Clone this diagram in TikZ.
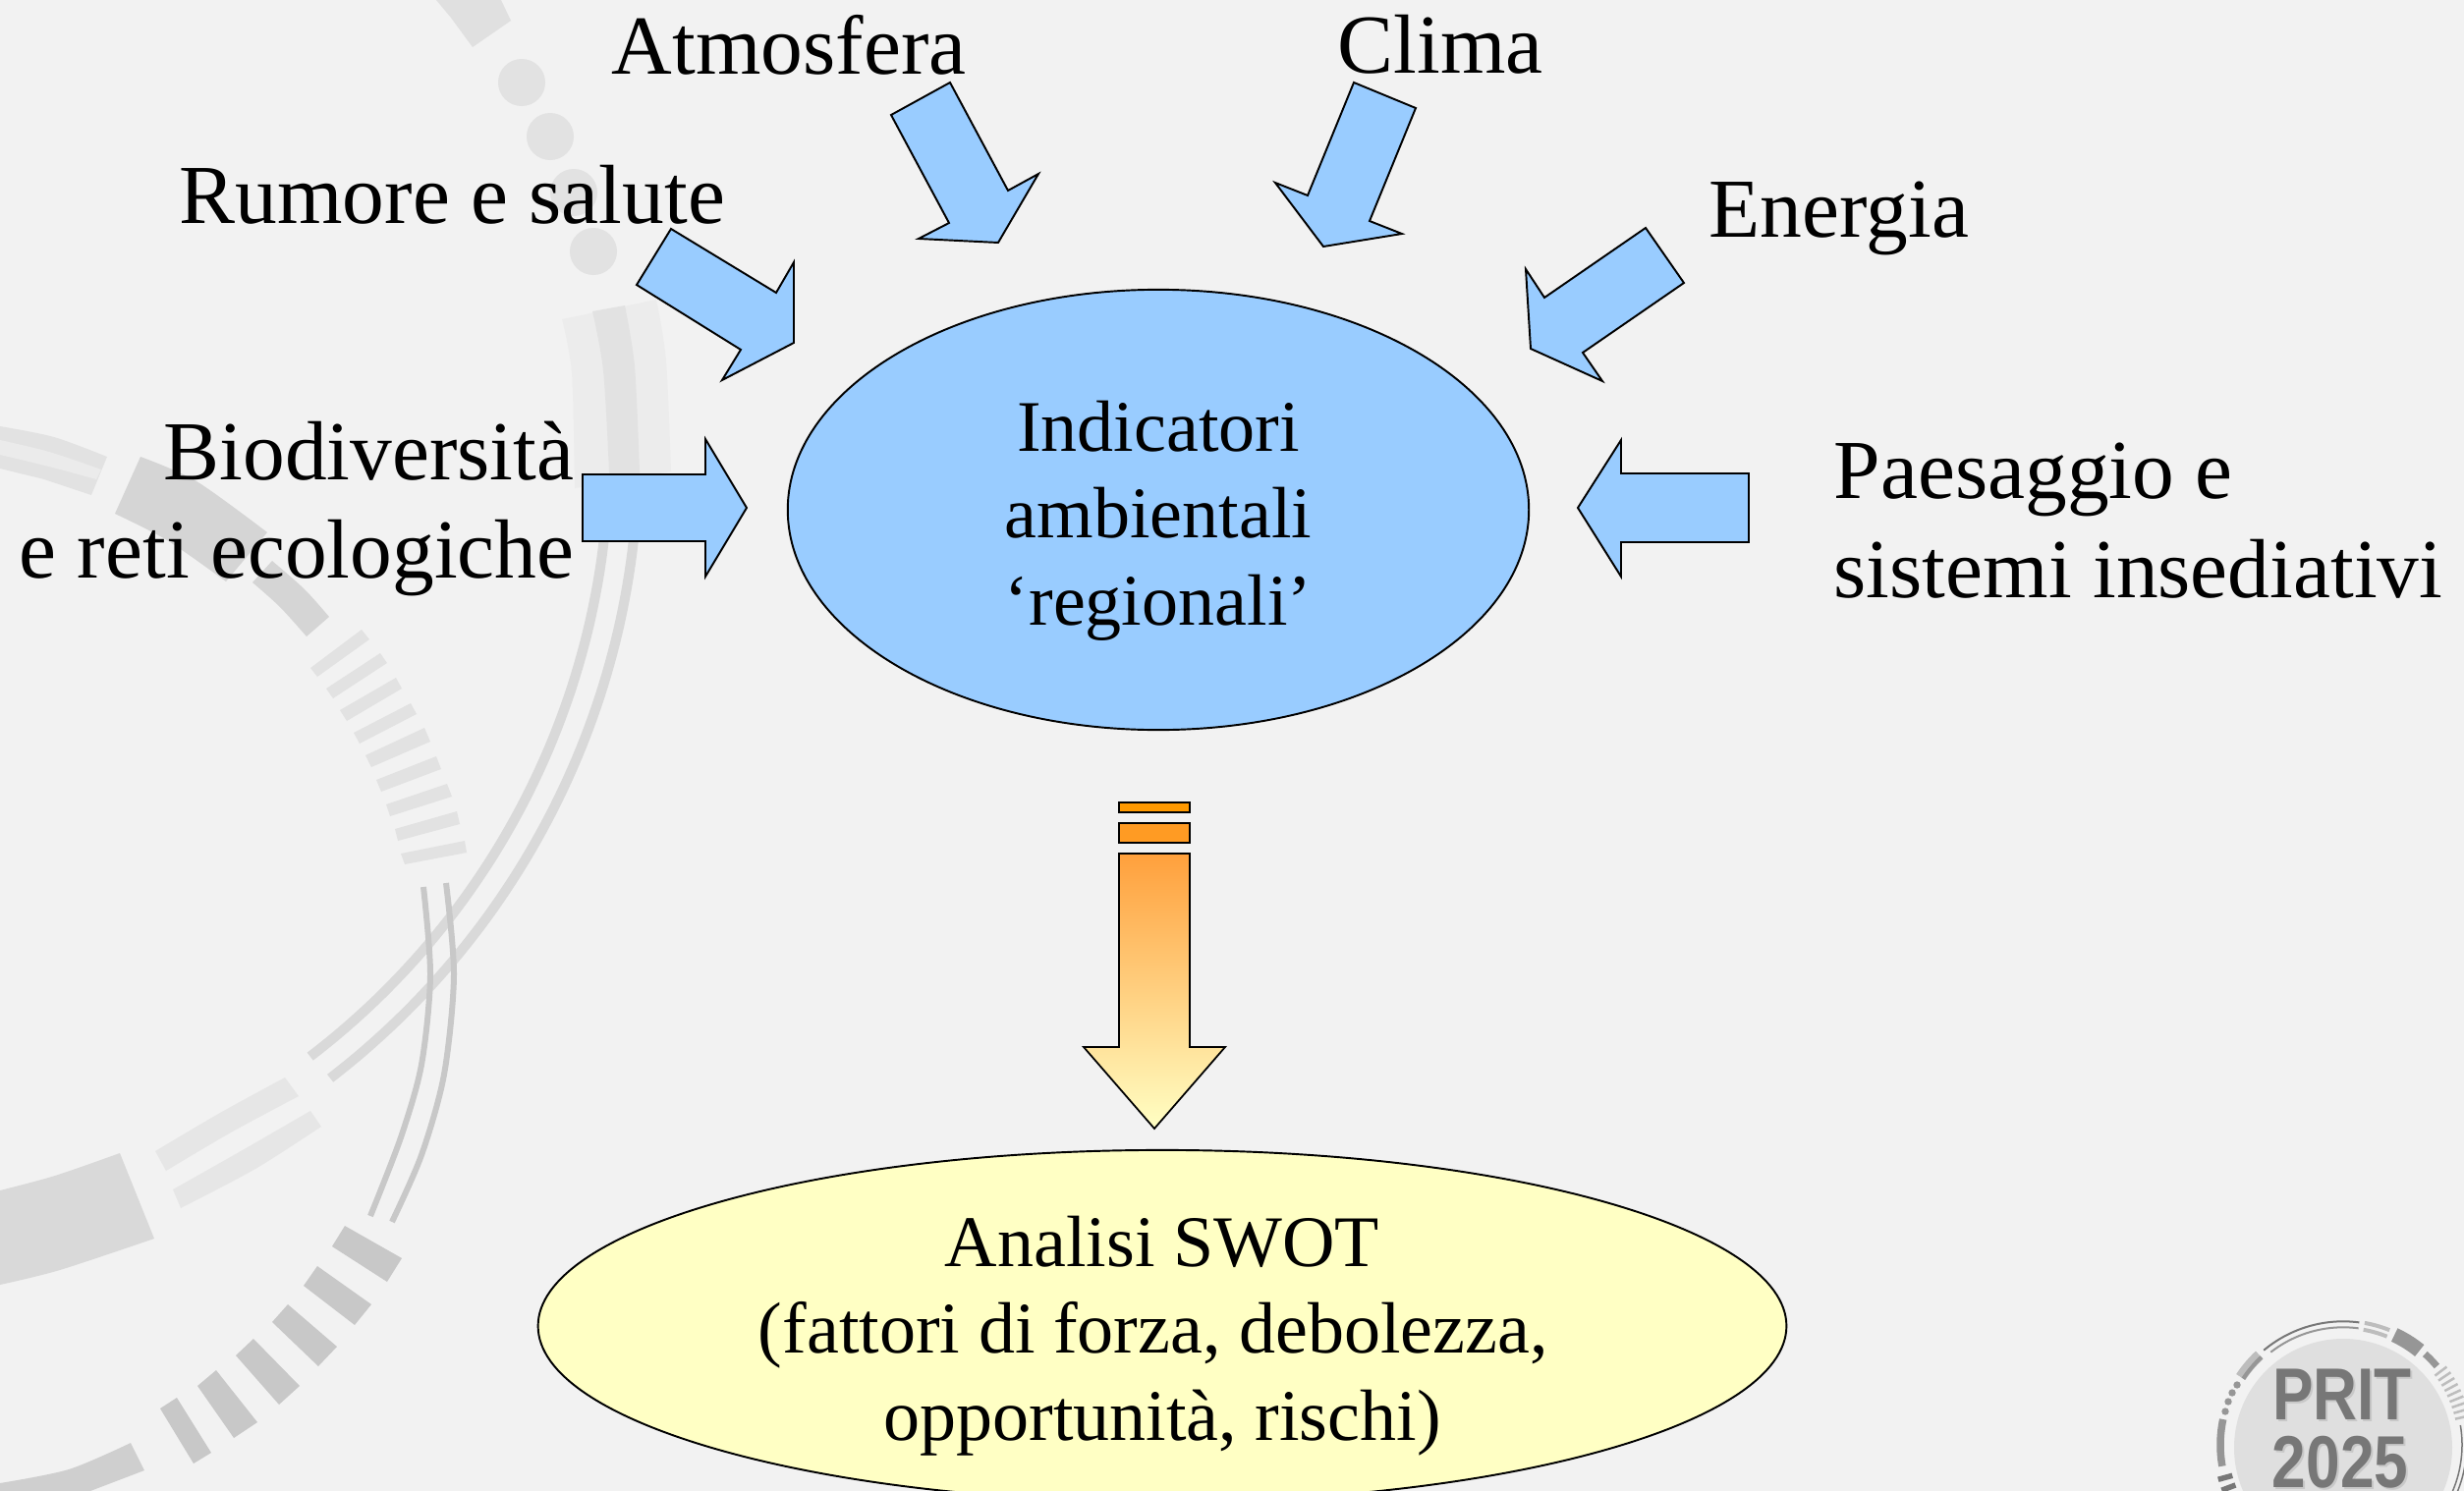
\documentclass[tikz,border=0pt]{standalone}
\usepackage{fontspec}
\usepackage{graphicx}
\setmainfont{Liberation Serif}
\newfontfamily\logofont{Liberation Sans}
\usetikzlibrary{shapes.geometric}
\definecolor{pagebg}{HTML}{F2F2F2}
\definecolor{skyfill}{HTML}{99CCFF}
\definecolor{creamfill}{HTML}{FFFFC4}
\definecolor{ringA}{HTML}{C8C8C8}
\definecolor{ringB}{HTML}{D5D5D5}
\definecolor{ringC}{HTML}{D9D9D9}
\definecolor{ringD}{HTML}{E2E2E2}
\definecolor{ringE}{HTML}{E6E6E6}
\definecolor{ringF}{HTML}{ECECEC}
\definecolor{ringG}{HTML}{CFCFCF}
\definecolor{logoDisk}{HTML}{DFDFDF}
\definecolor{logoText}{HTML}{777777}
\definecolor{logoShadow}{HTML}{C8C8C8}
\definecolor{logoMid}{HTML}{969696}
\definecolor{logoLight}{HTML}{BDBDBD}
\tikzset{
  blockarrow/.style={draw=black,fill=skyfill,line width=0.55pt,line join=miter},
  bigtext/.style={inner sep=0pt,font=\fontsize{24.3}{28.7}\selectfont},
  midtext/.style={inner sep=0pt,align=center,font=\fontsize{21.05}{25.2}\selectfont},
  bubble/.style={ellipse,draw=black,line width=0.55pt,inner sep=0pt},
  logotxt/.style={inner sep=0pt,anchor=base,font=\logofont\bfseries\fontsize{21.3}{21.3}\selectfont},
}
% arc of the small logo: angles a1 to a2 (math sense), radius, width, colour
\newcommand{\logoarc}[5]{\draw[line width=#4*0.01cm,color=#5,domain=#1:#2,samples=24,variable=\t,line cap=butt]
  plot ({2385+#3*cos(\t)},{1471-#3*sin(\t)});}
\newcommand{\logotick}[3]{\draw[line width=#3*0.01cm,color=#2] ({2385+117*cos(#1)},{1471-117*sin(#1)}) -- ({2385+132*cos(#1)},{1471-132*sin(#1)});}
\begin{document}
\begin{tikzpicture}[x=0.01cm,y=-0.01cm]
\useasboundingbox (0,0) rectangle (2508,1518);
\clip (0,0) rectangle (2508,1518);
\fill[pagebg] (0,0) rectangle (2508,1518);

% --- large faint ring decoration
\fill[ringD!80!ringC] (444,0) -- (510,0) -- (520,21) -- (481,48) -- (459,18) -- cycle;
\foreach \cx/\cy in {531/84,560/139,584/196,604/256}{\fill[ringD] (\cx,\cy) circle[radius=24];}
\fill[ringF] plot[smooth] coordinates {(572,325) (582,380) (585,497)} -- plot[smooth] coordinates {(683,480) (678,367) (668,305)} -- cycle;
\fill[ringD] plot[smooth] coordinates {(603,317) (614,377) (620,480) (620,500)} -- plot[smooth] coordinates {(651,500) (651,480) (646,373) (636,311)} -- cycle;
\draw[ringC,line width=0.1cm,domain=4:52.6,samples=60,variable=\t] plot ({-155+775*cos(\t)},{460+775*sin(\t)});
\draw[ringC,line width=0.1cm,domain=4:52.4,samples=60,variable=\t] plot ({-155+805*cos(\t)},{460+805*sin(\t)});
\fill[ringE] plot[smooth] coordinates {(290,1097) (224,1133) (158,1172)} -- plot[smooth] coordinates {(169,1192) (235,1153) (304,1116)} -- cycle;
\fill[ringE] plot[smooth] coordinates {(316,1131) (245,1172) (176,1211)} -- plot[smooth] coordinates {(184,1230) (260,1190) (327,1147)} -- cycle;
\fill[ringC] plot[smooth] coordinates {(122,1174) (56,1197) (0,1212)} -- plot[smooth] coordinates {(0,1308) (61,1293) (157,1261)} -- cycle;
\fill[ringA] (351,1248) -- (409,1281) -- (394,1305) -- (338,1269) -- cycle;
\fill[ringA] (323,1289) -- (378,1328) -- (361,1349) -- (309,1309) -- cycle;
\fill[ringA] (293,1328) -- (343,1371) -- (324,1391) -- (277,1346) -- cycle;
\fill[ringA] (258,1363) -- (305,1411) -- (284,1430) -- (240,1380) -- cycle;
\fill[ringA] (220,1395) -- (262,1448) -- (238,1464) -- (201,1411) -- cycle;
\fill[ringA] (180,1423) -- (215,1479) -- (197,1490) -- (163,1434) -- cycle;
\fill[ringG] plot[smooth] coordinates {(133,1469) (70,1496) (0,1510)} -- (0,1518) -- (92,1518) -- (147,1497) -- cycle;
\draw[ringA,line width=0.06cm] plot[smooth] coordinates {(431,903) (438,993) (429,1084) (408,1158) (377,1238)};
\draw[ringA,line width=0.06cm] plot[smooth] coordinates {(454,899) (462,993) (452,1094) (429,1176) (399,1244)};
% hatch marks
\foreach \a/\b/\c/\d/\e/\f/\g/\h in {
 368/641/376/651/323/689/316/680,
 387/665/394/675/339/711/332/701,
 403/690/409/701/353/734/346/723,
 418/716/424/727/366/757/360/746,
 432/741/438/755/378/781/372/769,
 444/770/449/783/388/806/383/794,
 455/798/460/811/397/831/393/819,
 465/826/468/839/405/856/402/844,
 473/856/475/868/412/880/408/869}{\fill[ringD] (\a,\b) -- (\c,\d) -- (\e,\f) -- (\g,\h) -- cycle;}
% arcs to the left
\fill[ringD] plot[smooth] coordinates {(0,434) (55,445) (109,465)} -- (93,504) -- plot[smooth] coordinates {(45,488) (0,477)} -- cycle;
\fill[ringE!60!pagebg] plot[smooth] coordinates {(0,448) (50,460) (103,478)} -- plot[smooth] coordinates {(98,488) (50,475) (0,463)} -- cycle;
\fill[ringB] plot[smooth] coordinates {(143,465) (200,490) (272,542)} -- plot[smooth] coordinates {(230,592) (170,550) (117,523)} -- cycle;
\fill[ringB] plot[smooth] coordinates {(277,571) (310,600) (335,628)} -- plot[smooth] coordinates {(312,648) (285,618) (257,593)} -- cycle;

% --- small logo, bottom right
\fill[logoDisk] (2385,1474) circle[radius=111];
\logoarc{82.5}{130}{125.7}{2}{logoText}
\logoarc{82.5}{128}{119.7}{2}{logoMid}
\logoarc{68}{80}{119}{4}{logoLight}
\logoarc{68}{80}{126}{4}{logoLight}
\logoarc{51}{65}{123.5}{15}{logoMid}
\logoarc{40}{48}{124.5}{7}{logoMid}
\foreach \ang in {37,34,31,28,25,22,19,16,13}{\logotick{\ang}{logoLight}{2.5}}
\logoarc{-30}{9.5}{121}{1.5}{logoText}
\logoarc{-30}{-8}{125.7}{1.5}{logoText}
\logoarc{133}{146.5}{125}{11}{logoLight}
\logoarc{133}{146.5}{122}{4}{logoMid}
\foreach \cx/\cy in {2277/1410,2272/1418,2268/1427,2265/1437}{\fill[logoMid] (\cx,\cy) circle[radius=3.7];}
\logoarc{168}{190}{125}{7.5}{logoMid}
\logotick{195.5}{logoText}{5.5}
\logotick{200.5}{logoText}{5.5}
\logotick{205.5}{logoText}{5.5}
\node[logotxt,text=logoShadow] (pritshadow) at (2386,1447) {\scalebox{0.83}[1]{PRIT}};
\node[logotxt,text=logoText] (prit) at (2384,1445) {\scalebox{0.83}[1]{PRIT}};
\node[logotxt,text=logoShadow] (yearshadow) at (2384,1516) {\scalebox{0.83}[1]{2025}};
\node[logotxt,text=logoText] (year) at (2382,1514) {\scalebox{0.83}[1]{2025}};

% --- ellipses
\node[bubble,fill=skyfill,minimum width=7.54cm,minimum height=4.48cm] (indicatori) at (1179,519) {};
\node[bubble,fill=creamfill,minimum width=12.70cm,minimum height=3.58cm] (swot) at (1183,1350) {};

% --- block arrows
\draw[blockarrow] (593,483) -- (718,483) -- (718,447) -- (760,517) -- (718,587) -- (718,551) -- (593,551) -- cycle;
\draw[blockarrow] (1606,517) -- (1650,448) -- (1650,482) -- (1780,482) -- (1780,552) -- (1650,552) -- (1650,587) -- cycle;
\draw[blockarrow] (683,233) -- (790,298) -- (808,267) -- (808,349) -- (735,387) -- (754,356) -- (648,290) -- cycle;
\draw[blockarrow] (967,84) -- (1026,194) -- (1057,177) -- (1016,247) -- (935,243) -- (966,227) -- (907,117) -- cycle;
\draw[blockarrow] (1378,84) -- (1441,110) -- (1394,225) -- (1427,238) -- (1347,251) -- (1298,186) -- (1331,199) -- cycle;
\draw[blockarrow] (1675,232) -- (1714,288) -- (1611,359) -- (1631,388) -- (1558,355) -- (1553,274) -- (1572,303) -- cycle;

% --- orange arrow
\draw[draw=black,line width=0.5pt,fill={rgb,255:red,255;green,153;blue,0}] (1139,817) rectangle (1211,827);
\draw[draw=black,line width=0.5pt,fill={rgb,255:red,255;green,155;blue,35}] (1139,838) rectangle (1211,858);
\shade[draw=black,line width=0.5pt,top color={rgb,255:red,255;green,160;blue,60},middle color={rgb,255:red,255;green,223;blue,154},bottom color=creamfill,line join=miter]
  (1139,869) -- (1211,869) -- (1211,1066) -- (1247,1066) -- (1175,1149) -- (1103,1066) -- (1139,1066) -- cycle;

% --- labels
\node[bigtext,anchor=base west] (atmosfera) at (622,75) {Atmosfera};
\node[bigtext,anchor=base west] (clima) at (1361,74) {Clima};
\node[bigtext,anchor=base west] (rumore) at (182,227) {Rumore e salute};
\node[bigtext,anchor=base west] (energia) at (1739,241) {Energia};
\node[bigtext,align=right,anchor=east] (biodiv) at (585,518) {Biodiversità\\e reti ecologiche};
\node[bigtext,align=left,anchor=west] (paesaggio) at (1866,530) {Paesaggio e\\sistemi insediativi};
\node[midtext] (indlabel) at (1179,530) {Indicatori\\ambientali\\‘regionali’};
\node[midtext] (swotlabel) at (1183,1360) {Analisi SWOT\\(fattori di forza, debolezza,\hspace*{0.25em}\mbox{}\\opportunità, rischi)};
\end{tikzpicture}
\end{document}
